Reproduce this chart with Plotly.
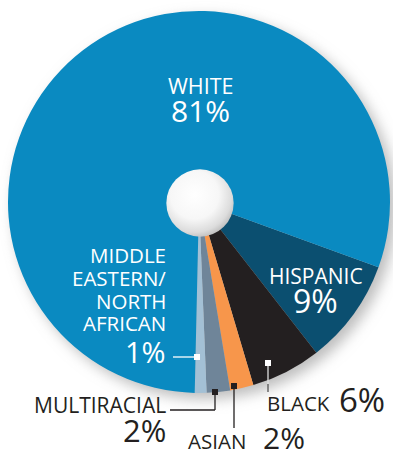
import base64
import plotly.graph_objects as go

# ---- data ----
groups = ["Hispanic", "Black", "Asian", "Multiracial", "Middle Eastern/North African", "White"]
shares = [9, 6, 2, 2, 1, 81]
slice_colors = ["#0b4f70", "#231f20", "#f7964b", "#6f8599", "#a3c0d5", "#0a8ac1"]

W, H = 393, 451
def px(x):
    return x / W
def py(y):
    return 1 - y / H

DARK = "#231f20"
FONT = "Open Sans"

fig = go.Figure()
fig.add_trace(go.Pie(
    labels=groups, values=shares, sort=False, direction="clockwise", rotation=110,
    marker=dict(colors=slice_colors, line=dict(width=0)),
    textinfo="none", hoverinfo="label+percent", showlegend=False,
    domain=dict(x=[px(8), px(390)], y=[py(393), py(11)]),
))

def svg_uri(svg):
    return "data:image/svg+xml;base64," + base64.b64encode(svg.encode()).decode()

shadow_svg = ("<svg xmlns='http://www.w3.org/2000/svg' width='440' height='440'>"
              "<defs><filter id='f' x='-20%' y='-20%' width='140%' height='140%'>"
              "<feGaussianBlur stdDeviation='7'/></filter></defs>"
              "<circle cx='226' cy='226' r='191' fill='#a0a0a0' fill-opacity='0.7' filter='url(#f)'/></svg>")
sphere_svg = ("<svg xmlns='http://www.w3.org/2000/svg' width='100' height='100'>"
              "<defs><radialGradient id='g' cx='0.42' cy='0.38' r='0.65'>"
              "<stop offset='0' stop-color='#ffffff'/><stop offset='0.55' stop-color='#f7f7f7'/>"
              "<stop offset='0.85' stop-color='#dcdcdc'/><stop offset='1' stop-color='#bdbdbd'/></radialGradient></defs>"
              "<circle cx='50' cy='50' r='49.5' fill='url(#g)'/></svg>")

images = [
    dict(source=svg_uri(shadow_svg), xref="paper", yref="paper",
         x=px(199 - 220), y=py(202 - 220), sizex=440 / W, sizey=440 / H,
         xanchor="left", yanchor="top", sizing="stretch", layer="below"),
    dict(source=svg_uri(sphere_svg), xref="paper", yref="paper",
         x=px(166), y=py(169), sizex=68 / W, sizey=68 / H,
         xanchor="left", yanchor="top", sizing="stretch", layer="above"),
]

ann = []
def text(t, x, y, size, color, xanchor="center", weight=500):
    ann.append(dict(text=t, x=px(x), y=py(y), xref="paper", yref="paper", showarrow=False,
                    xanchor=xanchor, yanchor="middle", borderpad=0,
                    font=dict(family=FONT, size=size, color=color, weight=weight)))

text("WHITE", 201, 85, 21.5, "white")
text("81%", 200, 110, 30, "white", weight=400)
text("HISPANIC", 316, 276, 21, "white")
text("9%", 315, 300, 32, "white", weight=400)
for t, y in [("MIDDLE", 255), ("EASTERN/", 278), ("NORTH", 301), ("AFRICAN", 323)]:
    text(t, 167, y, 20.5, "white", "right")
text("1%", 167, 351, 29, "white", "right", weight=400)
text("MULTIRACIAL", 167, 405, 21, DARK, "right")
text("2%", 167, 430, 31, DARK, "right", weight=400)
text("ASIAN", 187, 441, 20.5, DARK, "left")
text("2%", 262, 437, 30, DARK, "left", weight=400)
text("BLACK", 266, 403, 20.5, DARK, "left")
text("6%", 338, 399, 33, DARK, "left", weight=400)

shapes = []
def line(x0, y0, x1, y1, color):
    shapes.append(dict(type="line", xref="paper", yref="paper", x0=px(x0), y0=py(y0), x1=px(x1), y1=py(y1),
                       line=dict(color=color, width=1.3), layer="above"))
def sq(x, y, color):
    shapes.append(dict(type="rect", xref="paper", yref="paper", x0=px(x - 3), x1=px(x + 3), y0=py(y - 3), y1=py(y + 3),
                       fillcolor=color, line=dict(width=0), layer="above"))

line(173, 357, 197, 357, "white"); sq(197, 357, "white")
line(170, 410, 215, 410, DARK); line(215, 410, 215, 392, DARK); sq(215, 392, DARK)
line(234, 386, 234, 428, DARK); sq(234, 386, DARK)
line(268, 363, 268, 384, "#dddddd"); line(268, 384, 268, 392, "#555555"); sq(268, 363, "white")

fig.update_layout(width=W, height=H, margin=dict(l=0, r=0, t=0, b=0),
                  paper_bgcolor="white", plot_bgcolor="white",
                  images=images, annotations=ann, shapes=shapes)
fig.write_html("out.html")
